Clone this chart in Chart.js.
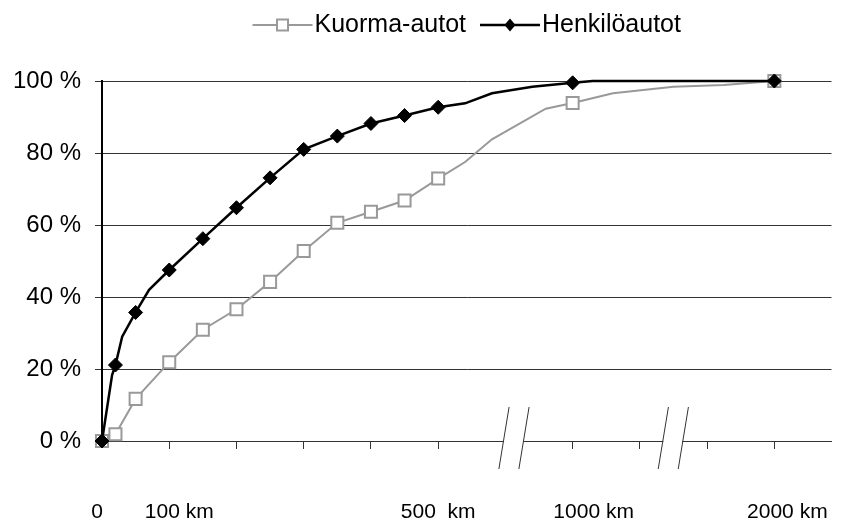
<!DOCTYPE html>
<html lang="fi">
<head>
<meta charset="utf-8">
<script src="https://cdn.jsdelivr.net/npm/chart.js@4.4.1/dist/chart.umd.min.js"></script>
<style>
html,body{margin:0;padding:0;background:#fff;}
#wrap{width:842px;height:520px;}
</style>
</head>
<body>
<div id="wrap"><canvas id="c" width="842" height="520"></canvas></div>
<script>
// matkan pituus (km) ja kumulatiivinen osuus (%)
const kmKuorma = [0, 20, 50, 100, 150, 200, 250, 300, 350, 400, 450, 500, 600, 700, 900, 1000, 1200, 1500, 1750, 2000];
const kuorma   = [0, 1.9, 11.7, 21.9, 30.9, 36.6, 44.2, 52.8, 60.6, 63.7, 66.8, 72.9, 77.5, 83.8, 92.3, 93.9, 96.6, 98.4, 98.9, 100];
const kmHenkilo = [0, 15, 20, 30, 50, 70, 100, 150, 200, 250, 300, 350, 400, 450, 500, 600, 700, 850, 1000, 1100, 2000];
const henkilo   = [0, 18.3, 21.1, 29, 35.7, 42, 47.5, 56.2, 64.8, 73.1, 81.0, 84.7, 88.2, 90.4, 92.7, 93.8, 96.6, 98.4, 99.5, 100, 100];
// pisteet, joihin piirretään merkki
const markerKm = [0, 20, 50, 100, 150, 200, 250, 300, 350, 400, 450, 500, 1000, 2000];
// x-akselin otsikot
const xLabels = ['0', '100 km', '500  km', '1000 km', '2000 km'];
const xLabelKm = [0, 100, 500, 1000, 2000];
const yTicks = [0, 20, 40, 60, 80, 100];

// katkaistu akseli: 0-500 km lineaarinen, 500-1000 ja 1000-2000 tiivistetty
const pos = km => km <= 500 ? km / 100 : km <= 1000 ? 5 + (km - 500) / 250 : 7 + (km - 1000) * 3 / 1000;
const breaks = [6.12, 8.49];

const FONT = '"Liberation Sans", Arial, sans-serif';
const GRID = '#333';
const GREY = '#999';

const toPts = (kms, vals) => kms.map((km, i) => ({x: pos(km), y: vals[i], km}));
const hasMarker = ctx => ctx.raw && markerKm.includes(ctx.raw.km);

const extras = {
  id: 'extras',
  afterDraw(chart) {
    const {ctx, chartArea: ca, scales: {x}} = chart;
    ctx.save();
    // akselikatkot
    breaks.forEach(b => {
      const cx = x.getPixelForValue(b), y0 = ca.bottom;
      ctx.fillStyle = '#fff';
      ctx.fillRect(cx - 9.5, y0 - 2, 19, 4);
      ctx.strokeStyle = GRID; ctx.lineWidth = 1;
      [-10, 10].forEach(dx => {
        ctx.beginPath();
        ctx.moveTo(cx + dx + 5.6, y0 - 34);
        ctx.lineTo(cx + dx - 4.6, y0 + 28);
        ctx.stroke();
      });
    });
    // x-otsikot
    const shift = [-5, 10, 0, 21, 13];
    ctx.fillStyle = '#000';
    ctx.font = '21px ' + FONT;
    ctx.textAlign = 'center';
    ctx.textBaseline = 'alphabetic';
    xLabels.forEach((t, i) => ctx.fillText(t, x.getPixelForValue(pos(xLabelKm[i])) + shift[i], 518));
    // selite
    ctx.font = '25px ' + FONT;
    ctx.textAlign = 'left';
    ctx.textBaseline = 'middle';
    const lineW = 60, gapItem = 14, y = 25;
    const items = chart.data.datasets.map(ds => ({ds, w: ctx.measureText(ds.label).width}));
    const total = items.reduce((s, it) => s + lineW + 2 + it.w, 0) + gapItem * (items.length - 1);
    let lx = (ca.left + ca.right) / 2 - total / 2;
    items.forEach(({ds, w}) => {
      ctx.strokeStyle = ds.borderColor; ctx.lineWidth = ds.borderWidth;
      ctx.beginPath(); ctx.moveTo(lx, y); ctx.lineTo(lx + lineW, y); ctx.stroke();
      const mx = lx + lineW / 2;
      if (ds.pointStyle === 'rect') {
        ctx.fillStyle = '#fff'; ctx.lineWidth = 2;
        ctx.fillRect(mx - 5.5, y - 5.5, 11, 11); ctx.strokeRect(mx - 5.5, y - 5.5, 11, 11);
      } else {
        ctx.fillStyle = ds.pointBackgroundColor;
        ctx.beginPath();
        ctx.moveTo(mx, y - 6.5); ctx.lineTo(mx + 5.5, y); ctx.lineTo(mx, y + 6.5); ctx.lineTo(mx - 5.5, y);
        ctx.closePath(); ctx.fill();
      }
      ctx.fillStyle = '#000';
      ctx.fillText(ds.label, lx + lineW + 2, y);
      lx += lineW + 2 + w + gapItem;
    });
    ctx.restore();
  }
};

new Chart(document.getElementById('c'), {
  type: 'line',
  data: {
    datasets: [
      {
        label: 'Kuorma-autot',
        data: toPts(kmKuorma, kuorma),
        borderColor: GREY, borderWidth: 2,
        pointStyle: 'rect', pointRadius: c => hasMarker(c) ? 8.5 : 0,
        pointBackgroundColor: '#fff', pointBorderColor: GREY, pointBorderWidth: 2,
        tension: 0, clip: false, order: 1
      },
      {
        label: 'Henkilöautot',
        data: toPts(kmHenkilo, henkilo),
        borderColor: '#000', borderWidth: 2.5,
        pointStyle: 'rectRot', pointRadius: c => hasMarker(c) ? 7 : 0,
        pointBackgroundColor: '#000', pointBorderColor: '#000', pointBorderWidth: 1,
        tension: 0, clip: false, order: 0
      }
    ]
  },
  options: {
    responsive: false,
    animation: false,
    events: [],
    layout: {padding: {top: 81, right: 4, left: 0, bottom: 0}},
    plugins: {legend: {display: false}, tooltip: {enabled: false}},
    scales: {
      x: {
        type: 'linear', min: 0, max: 10.85,
        afterFit: s => { s.height = 79; },
        ticks: {stepSize: 1, includeBounds: false, display: false},
        grid: {
          drawOnChartArea: false, drawTicks: true, tickLength: 8,
          color: c => (c.tick && (c.tick.value === 0 || c.tick.value === 6)) ? 'rgba(0,0,0,0)' : GRID
        },
        border: {color: GRID, width: 1}
      },
      y: {
        min: 0, max: 100,
        afterFit: s => { s.width = 102; },
        afterBuildTicks: s => { s.ticks = yTicks.map(v => ({value: v})); },
        ticks: {callback: v => v + ' %', color: '#000', padding: 14, font: {family: FONT, size: 24}},
        grid: {color: GRID, lineWidth: 1, tickLength: 7},
        border: {color: '#000', width: 2}
      }
    }
  },
  plugins: [extras]
});
</script>
</body>
</html>
